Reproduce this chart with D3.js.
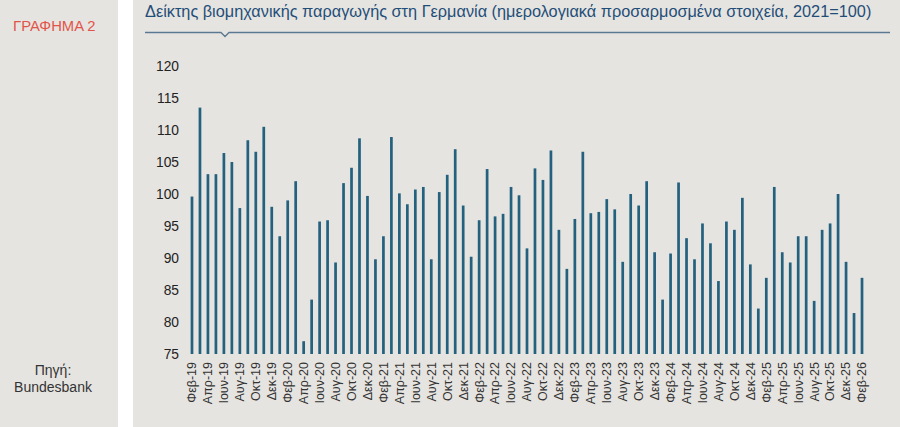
<!DOCTYPE html>
<html><head><meta charset="utf-8">
<script src="https://cdn.jsdelivr.net/npm/d3@7"></script>
<style>
html,body{margin:0;padding:0;background:#fff;}
svg{display:block;font-family:"Liberation Sans",Arial,sans-serif;}
</style></head>
<body><svg id="c" width="900" height="427"></svg>
<script>
const categories = [
"Φεβ-19","Μαρ-19","Απρ-19","Μαϊ-19","Ιουν-19","Ιουλ-19","Αυγ-19","Σεπ-19","Οκτ-19","Νοε-19","Δεκ-19",
"Ιαν-20","Φεβ-20","Μαρ-20","Απρ-20","Μαϊ-20","Ιουν-20","Ιουλ-20","Αυγ-20","Σεπ-20","Οκτ-20","Νοε-20","Δεκ-20",
"Ιαν-21","Φεβ-21","Μαρ-21","Απρ-21","Μαϊ-21","Ιουν-21","Ιουλ-21","Αυγ-21","Σεπ-21","Οκτ-21","Νοε-21","Δεκ-21",
"Ιαν-22","Φεβ-22","Μαρ-22","Απρ-22","Μαϊ-22","Ιουν-22","Ιουλ-22","Αυγ-22","Σεπ-22","Οκτ-22","Νοε-22","Δεκ-22",
"Ιαν-23","Φεβ-23","Μαρ-23","Απρ-23","Μαϊ-23","Ιουν-23","Ιουλ-23","Αυγ-23","Σεπ-23","Οκτ-23","Νοε-23","Δεκ-23",
"Ιαν-24","Φεβ-24","Μαρ-24","Απρ-24","Μαϊ-24","Ιουν-24","Ιουλ-24","Αυγ-24","Σεπ-24","Οκτ-24","Νοε-24","Δεκ-24",
"Ιαν-25","Φεβ-25","Μαρ-25","Απρ-25","Μαϊ-25","Ιουν-25","Ιουλ-25","Αυγ-25","Σεπ-25","Οκτ-25","Νοε-25","Δεκ-25",
"Ιαν-26","Φεβ-26"];
const values = [
99.6,113.5,103.1,103.1,106.4,105.0,97.8,108.4,106.6,110.5,98.0,
93.4,99.0,102.0,77.0,83.5,95.7,95.9,89.3,101.7,104.1,108.7,99.7,
89.8,93.4,108.9,100.1,98.4,100.7,101.1,89.8,100.3,103.0,107.0,98.2,
90.2,95.9,103.9,96.5,96.9,101.1,99.8,91.5,104.0,102.2,106.8,94.4,
88.3,96.1,106.6,97.0,97.2,99.2,97.6,89.4,100.0,98.2,102.0,90.9,
83.5,90.7,101.8,93.1,89.8,95.4,92.3,86.4,95.7,94.4,99.4,89.0,
82.1,86.9,101.1,90.9,89.3,93.4,93.4,83.3,94.4,95.4,100.0,89.4,
81.4,86.9];
const yTicks = [75,80,85,90,95,100,105,110,115,120];
const title = "Δείκτης βιομηχανικής παραγωγής στη Γερμανία (ημερολογιακά προσαρμοσμένα στοιχεία, 2021=100)";

const svg = d3.select("#c");
// panels
svg.append("rect").attr("x",0).attr("y",0).attr("width",118).attr("height",427).attr("fill","#e6e4e0");
svg.append("rect").attr("x",133).attr("y",0).attr("width",767).attr("height",427).attr("fill","#e6e4e0");

svg.append("text").attr("x",13).attr("y",31).attr("fill","#e2544b").attr("font-size",14.8).text("ΓΡΑΦΗΜΑ 2");
svg.append("text").attr("x",53).attr("y",375).attr("text-anchor","middle").attr("fill","#333").attr("font-size",14).text("Πηγή:");
svg.append("text").attr("x",53).attr("y",392).attr("text-anchor","middle").attr("fill","#333").attr("font-size",14).text("Bundesbank");

svg.append("text").attr("x",145).attr("y",17).attr("fill","#1f4e79").attr("font-size",16.3).text(title);
svg.append("path").attr("d","M145,32.5 H221 L225,36.5 L229,32.5 H890").attr("fill","none").attr("stroke","#5b7893").attr("stroke-width",1.3);

const x = d3.scaleBand().domain(categories).range([188,866]).paddingInner(0.66).paddingOuter(0.33);
const y = d3.scaleLinear().domain([75,120]).range([354,66]);

svg.append("g").selectAll("rect").data(values).join("rect")
  .attr("x",(d,i)=>x(categories[i]))
  .attr("width",x.bandwidth())
  .attr("y",d=>y(d))
  .attr("height",d=>y(75)-y(d))
  .attr("fill","#24617f");

const ya = svg.append("g").attr("transform","translate(179,0)")
  .call(d3.axisLeft(y).tickValues(yTicks).tickSize(0).tickPadding(0));
ya.select(".domain").remove();
ya.selectAll("text").attr("font-size",13.8).attr("fill","#222").attr("font-family","Liberation Sans, Arial, sans-serif");

const xa = svg.append("g").attr("transform","translate(0,357)")
  .call(d3.axisBottom(x).tickValues(categories.filter((c,i)=>i%2===0)).tickSize(0).tickPadding(0));
xa.select(".domain").remove();
xa.selectAll("text").attr("font-size",12.5).attr("fill","#333").attr("font-family","Liberation Sans, Arial, sans-serif")
  .attr("transform","rotate(-90)").attr("text-anchor","end").attr("dy","0.35em").attr("x",-5).attr("y",0);
</script></body></html>
